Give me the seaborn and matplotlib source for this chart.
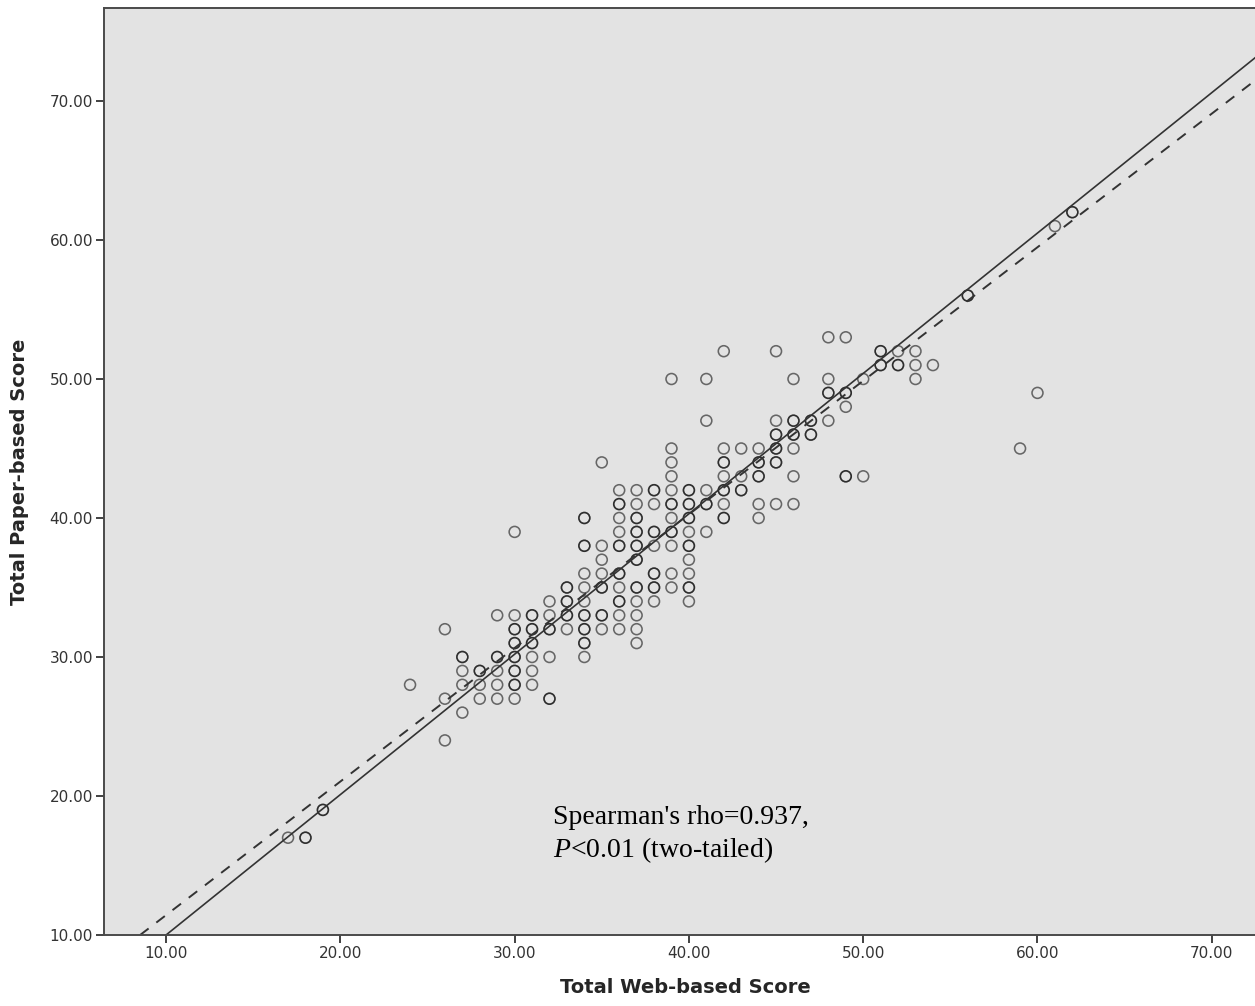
import numpy as np
import pandas as pd
import matplotlib
matplotlib.use("Agg")
import matplotlib.pyplot as plt
import seaborn as sns

# web score, paper score, number of overlapping cases at that point
web = [17, 18, 19, 24,
       26, 26, 26,
       27, 27, 27, 27,
       28, 28, 28,
       29, 29, 29, 29, 29,
       30, 30, 30, 30, 30, 30, 30, 30,
       31, 31, 31, 31, 31, 31,
       32, 32, 32, 32, 32,
       33, 33, 33, 33,
       34, 34, 34, 34, 34, 34, 34, 34, 34,
       35, 35, 35, 35, 35, 35, 35,
       36, 36, 36, 36, 36, 36, 36, 36, 36, 36,
       37, 37, 37, 37, 37, 37, 37, 37, 37, 37, 37,
       38, 38, 38, 38, 38, 38, 38,
       39, 39, 39, 39, 39, 39, 39, 39, 39, 39, 39,
       40, 40, 40, 40, 40, 40, 40, 40, 40,
       41, 41, 41, 41, 41,
       42, 42, 42, 42, 42, 42, 42,
       43, 43, 43,
       44, 44, 44, 44, 44,
       45, 45, 45, 45, 45, 45,
       46, 46, 46, 46, 46, 46,
       47, 47,
       48, 48, 48, 48,
       49, 49, 49, 49,
       50, 50,
       51, 51,
       52, 52,
       53, 53, 53,
       54, 56, 59, 60, 61, 62]
paper = [17, 17, 19, 28,
         32, 27, 24,
         30, 29, 28, 26,
         29, 28, 27,
         33, 30, 29, 28, 27,
         39, 33, 32, 31, 30, 29, 28, 27,
         33, 32, 31, 30, 29, 28,
         34, 33, 32, 30, 27,
         35, 34, 33, 32,
         40, 38, 36, 35, 34, 33, 32, 31, 30,
         44, 38, 37, 36, 35, 33, 32,
         42, 41, 40, 39, 38, 36, 35, 34, 33, 32,
         42, 41, 40, 39, 38, 37, 35, 34, 33, 32, 31,
         42, 41, 39, 38, 36, 35, 34,
         50, 45, 44, 43, 42, 41, 40, 39, 38, 36, 35,
         42, 41, 40, 39, 38, 37, 36, 35, 34,
         50, 47, 42, 41, 39,
         52, 45, 44, 43, 42, 41, 40,
         45, 43, 42,
         45, 44, 43, 41, 40,
         52, 47, 46, 45, 44, 41,
         50, 47, 46, 45, 43, 41,
         47, 46,
         53, 50, 49, 47,
         53, 49, 48, 43,
         50, 43,
         52, 51,
         52, 51,
         52, 51, 50,
         51, 56, 45, 49, 61, 62]
cases = [1, 2, 2, 1,
         1, 1, 1,
         2, 1, 1, 1,
         2, 1, 1,
         1, 2, 1, 1, 1,
         1, 1, 2, 2, 2, 2, 2, 1,
         2, 2, 2, 1, 1, 1,
         1, 1, 2, 1, 2,
         2, 2, 2, 1,
         2, 2, 1, 1, 1, 2, 2, 2, 1,
         1, 1, 1, 1, 2, 2, 1,
         1, 2, 1, 1, 2, 2, 1, 2, 1, 1,
         1, 1, 2, 2, 2, 2, 2, 1, 1, 1, 1,
         2, 1, 2, 1, 2, 2, 1,
         1, 1, 1, 1, 1, 2, 1, 2, 1, 1, 1,
         2, 2, 2, 1, 2, 1, 1, 2, 1,
         1, 1, 1, 2, 1,
         1, 1, 2, 1, 2, 1, 2,
         1, 1, 2,
         1, 2, 2, 1, 1,
         1, 1, 2, 2, 2, 1,
         1, 2, 2, 1, 1, 1,
         2, 2,
         1, 1, 2, 1,
         1, 2, 1, 2,
         1, 1,
         2, 2,
         1, 2,
         1, 1, 1,
         1, 2, 1, 1, 1, 2]

# solid reference line and dashed fit line
ref_slope, ref_intercept = 1.01, -0.1
fit_slope, fit_intercept = 0.961, 1.82
tick_values = [10, 20, 30, 40, 50, 60, 70]

df = pd.DataFrame({"web": np.repeat(web, cases), "paper": np.repeat(paper, cases)})

sns.set_style("ticks")
plt.rcParams["font.family"] = "DejaVu Sans"
plt.rcParams["mathtext.fontset"] = "custom"
plt.rcParams["mathtext.it"] = "Liberation Serif:italic"
plt.rcParams["mathtext.rm"] = "Liberation Serif"

fig = plt.figure(figsize=(12.55, 10.06), dpi=100)
ax = fig.add_axes([104 / 1255, 1 - 935 / 1006, 1 - 104 / 1255 + 0.01, (935 - 8) / 1006])
ax.set_facecolor("#e3e3e3")

sns.scatterplot(data=df, x="web", y="paper", ax=ax, marker="o", s=62,
                facecolor="none", edgecolor="black", linewidth=1.15, alpha=0.55)

ax.axline((0, ref_intercept), slope=ref_slope, color="#333333", lw=1.2, zorder=1)
ax.axline((0, fit_intercept), slope=fit_slope, color="#333333", lw=1.4,
          linestyle=(0, (5.5, 5)), zorder=1)

ax.set_xlim(6.44, 73.2)
ax.set_ylim(10, 76.69)
ax.set_xticks(tick_values)
ax.set_yticks(tick_values)
ax.set_xticklabels([f"{v:.2f}" for v in tick_values])
ax.set_yticklabels([f"{v:.2f}" for v in tick_values])
ax.tick_params(direction="out", length=6, width=1.3, colors="#333333",
               labelsize=11, labelcolor="#333333", pad=2)

for side in ["left", "bottom", "top"]:
    ax.spines[side].set_color("#4a4a4a")
    ax.spines[side].set_linewidth(1.4)
ax.spines["right"].set_visible(False)

ax.set_xlabel("Total Web-based Score", fontsize=14, fontweight="bold", labelpad=12)
ax.set_ylabel("Total Paper-based Score", fontsize=14, fontweight="bold", labelpad=15)

ax.text(32.2, 15.6, "Spearman's rho=0.937,\n$P$<0.01 (two-tailed)",
        family="Liberation Serif", fontsize=20, va="baseline", ha="left",
        linespacing=1.22, color="black")

fig.savefig("out.png", dpi=100)
